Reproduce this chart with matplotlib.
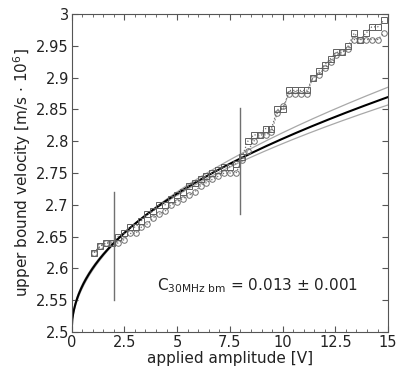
import matplotlib
matplotlib.use("Agg")
import matplotlib.pyplot as plt
import numpy as np
from matplotlib.ticker import MultipleLocator

# measured amplitudes [V]
amp = [1.07, 1.35, 1.63, 1.91, 2.19, 2.47, 2.75, 3.03, 3.31, 3.59,
       3.87, 4.15, 4.43, 4.71, 4.99, 5.27, 5.55, 5.83, 6.11, 6.39,
       6.67, 6.95, 7.23, 7.51, 7.79, 8.07, 8.35, 8.63, 8.91, 9.19,
       9.47, 9.75, 10.03, 10.31, 10.59, 10.87, 11.15, 11.43, 11.71, 11.99,
       12.27, 12.55, 12.83, 13.11, 13.39, 13.67, 13.95, 14.23, 14.51, 14.79]

# upper bound velocity, squares
vel_sq = [2.625, 2.635, 2.64, 2.64, 2.65, 2.655, 2.665, 2.665, 2.675, 2.685,
          2.69, 2.70, 2.70, 2.71, 2.715, 2.72, 2.73, 2.735, 2.74, 2.745,
          2.75, 2.755, 2.76, 2.76, 2.765, 2.775, 2.80, 2.81, 2.81, 2.82,
          2.82, 2.85, 2.85, 2.88, 2.88, 2.88, 2.88, 2.90, 2.91, 2.92,
          2.93, 2.94, 2.94, 2.95, 2.97, 2.96, 2.97, 2.98, 2.98, 2.99]

# upper bound velocity, circles
vel_ci = [2.625, 2.635, 2.64, 2.64, 2.64, 2.645, 2.655, 2.655, 2.665, 2.67,
          2.68, 2.685, 2.69, 2.70, 2.705, 2.71, 2.715, 2.72, 2.73, 2.735,
          2.74, 2.745, 2.75, 2.75, 2.75, 2.77, 2.785, 2.80, 2.81, 2.81,
          2.815, 2.845, 2.855, 2.875, 2.875, 2.875, 2.875, 2.90, 2.905, 2.915,
          2.925, 2.935, 2.94, 2.945, 2.96, 2.96, 2.96, 2.96, 2.96, 2.97]

# fit v = v0 + a * U^p  (best fit and bounds)
v0 = 2.5
fit = (0.1002, 0.482)
fit_hi = (0.0973, 0.508)
fit_lo = (0.1025, 0.461)

# fit range markers
range_x = [2.0, 8.0]
range_lo = [2.55, 2.685]
range_hi = [2.72, 2.852]

plt.rcParams['font.family'] = ['DejaVu Sans']
fig = plt.figure(figsize=(4.09, 3.92), dpi=100)
ax = fig.add_axes([0.175, 0.153, 0.774, 0.811])

u = np.linspace(0, 15, 400)
ax.plot(u, v0 + fit_hi[0] * u ** fit_hi[1], color="#a8a8a8", lw=0.9)
ax.plot(u, v0 + fit_lo[0] * u ** fit_lo[1], color="#a8a8a8", lw=0.9)
ax.plot(u, v0 + fit[0] * u ** fit[1], color="black", lw=1.5)

ax.plot(amp, vel_ci, linestyle=":", color="#707070", lw=0.9,
        marker="o", ms=4.0, mfc="none", mec="#707070", mew=0.7)
ax.plot(amp, vel_sq, linestyle=":", color="#707070", lw=0.9,
        marker="s", ms=4.5, mfc="none", mec="#606060", mew=0.7)

for xr, lo, hi in zip(range_x, range_lo, range_hi):
    ax.plot([xr, xr], [lo, hi], color="#707070", lw=1)

ax.text(4.05, 2.565, r"C$_{\mathregular{30MHz\ bm}}$ = 0.013 $\pm$ 0.001",
        fontsize=11, color="#222222")

ax.set_xlim(0, 15)
ax.set_ylim(2.5, 3.0)
ax.xaxis.set_major_locator(MultipleLocator(2.5))
ax.xaxis.set_minor_locator(MultipleLocator(0.5))
ax.yaxis.set_major_locator(MultipleLocator(0.05))
ax.set_xticks([0, 2.5, 5, 7.5, 10, 12.5, 15])
ax.set_xticklabels(["0", "2.5", "5", "7.5", "10", "12.5", "15"])
ax.set_yticks([2.5, 2.55, 2.6, 2.65, 2.7, 2.75, 2.8, 2.85, 2.9, 2.95, 3.0])
ax.set_yticklabels(["2.5", "2.55", "2.6", "2.65", "2.7", "2.75", "2.8",
                    "2.85", "2.9", "2.95", "3"])
ax.tick_params(which="both", direction="in", top=True, right=True,
               labelsize=10.5, colors="#222222", pad=2)
ax.tick_params(which="major", length=4, color="#555555")
ax.tick_params(which="minor", length=2, color="#555555")
for s in ax.spines.values():
    s.set_color("#555555")

ax.set_xlabel("applied amplitude [V]", fontsize=11, color="#222222", labelpad=1)
ax.set_ylabel(r"upper bound velocity [m/s $\cdot$ 10$^6$]", fontsize=11,
              color="#222222", labelpad=2)

fig.savefig("out.png", dpi=100)
